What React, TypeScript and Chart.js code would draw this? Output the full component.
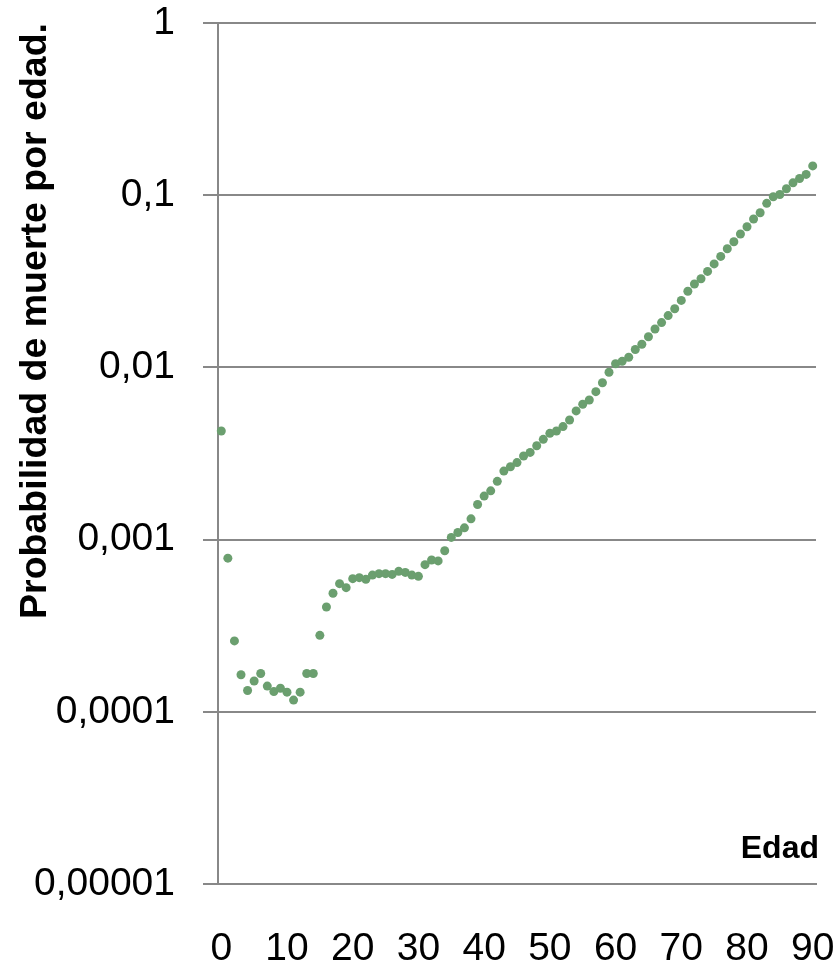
import { useEffect, useRef } from "react";
import { Chart, registerables } from "chart.js";

Chart.register(...registerables);

const ages = [
  "0", "1", "2", "3", "4", "5", "6", "7", "8", "9",
  "10", "11", "12", "13", "14", "15", "16", "17", "18", "19",
  "20", "21", "22", "23", "24", "25", "26", "27", "28", "29",
  "30", "31", "32", "33", "34", "35", "36", "37", "38", "39",
  "40", "41", "42", "43", "44", "45", "46", "47", "48", "49",
  "50", "51", "52", "53", "54", "55", "56", "57", "58", "59",
  "60", "61", "62", "63", "64", "65", "66", "67", "68", "69",
  "70", "71", "72", "73", "74", "75", "76", "77", "78", "79",
  "80", "81", "82", "83", "84", "85", "86", "87", "88", "89",
  "90",
];

const deathProbability = [
  0.00427, 0.00078, 0.000258, 0.000164, 0.000133, 0.000151, 0.000167, 0.000141, 0.000131, 0.000137,
  0.00013, 0.000117, 0.00013, 0.000167, 0.000167, 0.000278, 0.000406, 0.000488, 0.000555, 0.000526,
  0.000593, 0.000601, 0.000588, 0.000622, 0.000634, 0.000634, 0.000628, 0.000654, 0.000645, 0.000622,
  0.000612, 0.000715, 0.000761, 0.000752, 0.000862, 0.00103, 0.0011, 0.00117, 0.00132, 0.0016,
  0.00179, 0.00192, 0.00218, 0.0025, 0.00265, 0.0028, 0.00306, 0.00321, 0.00351, 0.00382,
  0.00414, 0.00427, 0.00453, 0.00495, 0.00559, 0.00611, 0.00647, 0.00723, 0.00815, 0.00937,
  0.0105, 0.01084, 0.01145, 0.0127, 0.01362, 0.01507, 0.0167, 0.0182, 0.02, 0.0219,
  0.0245, 0.0277, 0.0305, 0.0327, 0.0361, 0.0399, 0.0441, 0.0489, 0.0537, 0.0595,
  0.0656, 0.0727, 0.0791, 0.0897, 0.098, 0.101, 0.109, 0.118, 0.125, 0.132,
  0.148,
];

const xTickLabels = ["0", "10", "20", "30", "40", "50", "60", "70", "80", "90"];
const yTickValues = [0.00001, 0.0001, 0.001, 0.01, 0.1, 1];
const yTickLabels = ["0,00001", "0,0001", "0,001", "0,01", "0,1", "1"];

const yTitle = "Probabilidad de muerte por edad.";
const xTitle = "Edad";

const FONT = "'Liberation Sans', Arial, sans-serif";
const GRID = "#888888";
const POINT = "#6b9f6f";

const xTitlePlugin = {
  id: "xTitleInside",
  afterDraw(chart: any) {
    const { ctx, chartArea } = chart;
    ctx.save();
    ctx.font = `bold 32px ${FONT}`;
    ctx.fillStyle = "#000000";
    ctx.textAlign = "right";
    ctx.textBaseline = "alphabetic";
    ctx.fillText(xTitle, chartArea.right + 3, chartArea.bottom - 26);
    ctx.restore();
  },
};

export default function App() {
  const canvasRef = useRef<HTMLCanvasElement | null>(null);

  useEffect(() => {
    if (!canvasRef.current) return;
    const chart = new Chart(canvasRef.current, {
      type: "line",
      data: {
        labels: ages,
        datasets: [
          {
            data: deathProbability,
            showLine: false,
            pointRadius: 4.5,
            pointHoverRadius: 4.5,
            pointBorderWidth: 0,
            pointBackgroundColor: POINT,
            pointBorderColor: POINT,
            backgroundColor: POINT,
            borderColor: POINT,
          },
        ],
      },
      options: {
        animation: false,
        responsive: true,
        maintainAspectRatio: false,
        layout: { padding: { top: 23, right: 20, bottom: 0, left: 0 } },
        plugins: {
          legend: { display: false },
          tooltip: { enabled: false },
        },
        scales: {
          x: {
            type: "category",
            offset: true,
            grid: { display: false },
            border: { display: true, color: GRID, width: 2 },
            ticks: {
              autoSkip: false,
              maxRotation: 0,
              minRotation: 0,
              padding: 38,
              color: "#000000",
              font: { family: FONT, size: 39, lineHeight: 1 },
              callback: (_v: any, index: number) =>
                xTickLabels.includes(ages[index]) ? ages[index] : "",
            },
            afterFit: (scale: any) => {
              scale.height = 79;
              scale.paddingLeft = 0;
              scale.paddingRight = 0;
              scale.paddingTop = 0;
              scale.paddingBottom = 0;
            },
          },
          y: {
            type: "logarithmic",
            min: 0.00001,
            max: 1,
            afterBuildTicks: (scale: any) => {
              scale.ticks = yTickValues.map((v) => ({ value: v }));
            },
            afterFit: (scale: any) => {
              scale.width = 218;
              scale.paddingLeft = 0;
              scale.paddingRight = 0;
              scale.paddingTop = 0;
              scale.paddingBottom = 0;
            },
            grid: {
              display: true,
              color: GRID,
              lineWidth: 2,
              drawTicks: true,
              tickLength: 15,
            },
            border: { display: true, color: GRID, width: 2 },
            ticks: {
              padding: 28,
              color: "#000000",
              font: { family: FONT, size: 39, lineHeight: 1 },
              callback: (value: any) => {
                const i = yTickValues.indexOf(Number(value));
                return i >= 0 ? yTickLabels[i] : "";
              },
            },
            title: {
              display: true,
              text: yTitle,
              align: "end",
              color: "#000000",
              padding: { top: 13, bottom: 0 },
              font: { family: FONT, size: 37.5, weight: "bold", lineHeight: 1.2 },
            },
          },
        },
      },
      plugins: [xTitlePlugin],
    } as any);
    return () => chart.destroy();
  }, []);

  return (
    <div style={{ position: "absolute", left: 0, top: 0, width: 836, height: 963, background: "#ffffff" }}>
      <canvas ref={canvasRef} />
    </div>
  );
}
